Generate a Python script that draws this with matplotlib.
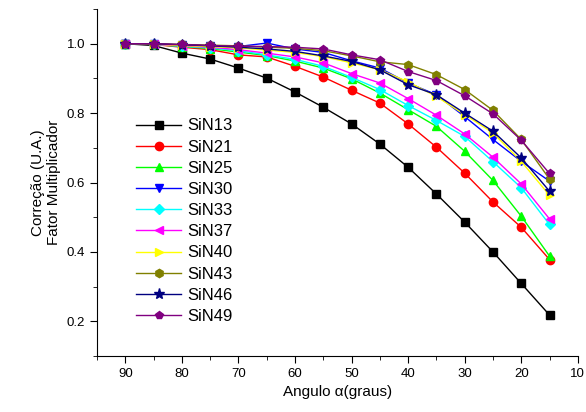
import matplotlib
matplotlib.use("Agg")
import matplotlib.pyplot as plt
from matplotlib.ticker import MultipleLocator

plt.rcParams['font.family'] = ['Liberation Sans', 'DejaVu Sans']

# angulos (graus)
angulo = [90, 85, 80, 75, 70, 65, 60, 55, 50, 45, 40, 35, 30, 25, 20, 15]

sin13 = [1.0, 0.995, 0.973, 0.956, 0.930, 0.901, 0.861, 0.817, 0.769, 0.711, 0.644, 0.567, 0.486, 0.400, 0.309, 0.218]
sin21 = [1.0, 0.998, 0.990, 0.983, 0.968, 0.962, 0.935, 0.904, 0.866, 0.829, 0.769, 0.702, 0.627, 0.544, 0.471, 0.378]
sin25 = [1.0, 0.998, 0.992, 0.986, 0.976, 0.966, 0.950, 0.930, 0.899, 0.858, 0.810, 0.762, 0.690, 0.606, 0.503, 0.388]
sin30 = [1.0, 1.0, 0.996, 0.994, 0.992, 1.002, 0.985, 0.975, 0.951, 0.930, 0.887, 0.853, 0.790, 0.724, 0.661, 0.604]
sin33 = [1.0, 0.998, 0.993, 0.988, 0.980, 0.968, 0.955, 0.935, 0.903, 0.868, 0.822, 0.779, 0.733, 0.660, 0.585, 0.479]
sin37 = [1.0, 0.998, 0.994, 0.990, 0.983, 0.973, 0.962, 0.945, 0.914, 0.887, 0.842, 0.794, 0.740, 0.673, 0.596, 0.495]
sin40 = [1.0, 0.999, 0.995, 0.992, 0.988, 0.982, 0.975, 0.963, 0.945, 0.925, 0.890, 0.848, 0.796, 0.743, 0.661, 0.563]
sin43 = [1.0, 1.0, 0.998, 0.996, 0.994, 0.990, 0.987, 0.980, 0.965, 0.948, 0.940, 0.911, 0.868, 0.808, 0.724, 0.610]
sin46 = [1.0, 1.0, 0.997, 0.994, 0.990, 0.985, 0.978, 0.965, 0.949, 0.925, 0.882, 0.853, 0.800, 0.748, 0.671, 0.575]
sin49 = [1.0, 1.0, 0.998, 0.995, 0.993, 0.992, 0.990, 0.985, 0.968, 0.954, 0.920, 0.894, 0.850, 0.798, 0.722, 0.626]

series = [
    ("SiN13", sin13, "black", "s"),
    ("SiN21", sin21, "red", "o"),
    ("SiN25", sin25, "#00ff00", "^"),
    ("SiN30", sin30, "blue", "v"),
    ("SiN33", sin33, "cyan", "D"),
    ("SiN37", sin37, "magenta", "<"),
    ("SiN40", sin40, "yellow", ">"),
    ("SiN43", sin43, "#808000", "h"),
    ("SiN46", sin46, "#000080", "*"),
    ("SiN49", sin49, "#800080", "p"),
]

fig = plt.figure(figsize=(5.86, 4.12), dpi=100)
ax = fig.add_axes([0.1655, 0.136, 0.8205, 0.842])

for nome, vals, cor, mk in series:
    ms = 6
    if mk == "D":
        ms = 5
    if mk == "*":
        ms = 8
    ax.plot(angulo, vals, color=cor, marker=mk, markersize=ms, linewidth=1.0, label=nome)

ax.set_xlim(95, 10)
ax.set_ylim(0.1, 1.1)
ax.xaxis.set_major_locator(MultipleLocator(10))
ax.xaxis.set_minor_locator(MultipleLocator(5))
ax.yaxis.set_major_locator(MultipleLocator(0.2))
ax.yaxis.set_minor_locator(MultipleLocator(0.1))
ax.set_yticks([0.2, 0.4, 0.6, 0.8, 1.0])
ax.tick_params(which='both', direction='out', labelsize=9.5)
ax.tick_params(which='major', length=5)
ax.tick_params(which='minor', length=3)
ax.spines['top'].set_visible(False)
ax.spines['right'].set_visible(False)

ax.set_xlabel("Angulo \u03b1(graus)", fontsize=11)
ax.set_ylabel("Corre\u00e7\u00e3o (U.A.)\nFator Multiplicador", fontsize=11)

ax.legend(loc='upper left', bbox_to_anchor=(0.05, 0.728), frameon=False,
          fontsize=12, handlelength=2.7, labelspacing=0.37, handletextpad=0.4)

fig.savefig("out.png", dpi=100)
